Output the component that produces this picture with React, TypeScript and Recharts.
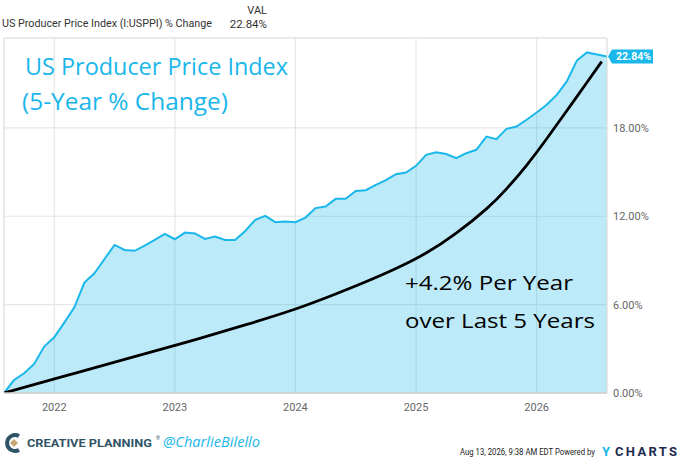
import React from 'react';
import { ComposedChart, Area, Line, XAxis, YAxis, CartesianGrid, ReferenceLine } from 'recharts';

const months = [
  '2021-08', '2021-09', '2021-10', '2021-11', '2021-12',
  '2022-01', '2022-02', '2022-03', '2022-04', '2022-05', '2022-06', '2022-07', '2022-08', '2022-09', '2022-10', '2022-11', '2022-12',
  '2023-01', '2023-02', '2023-03', '2023-04', '2023-05', '2023-06', '2023-07', '2023-08', '2023-09', '2023-10', '2023-11', '2023-12',
  '2024-01', '2024-02', '2024-03', '2024-04', '2024-05', '2024-06', '2024-07', '2024-08', '2024-09', '2024-10', '2024-11', '2024-12',
  '2025-01', '2025-02', '2025-03', '2025-04', '2025-05', '2025-06', '2025-07', '2025-08', '2025-09', '2025-10', '2025-11', '2025-12',
  '2026-01', '2026-02', '2026-03', '2026-04', '2026-05', '2026-06', '2026-07', '2026-08',
];

const ppiChange = [
  0, 0.88, 1.34, 1.97, 3.15,
  3.78, 4.78, 5.82, 7.5, 8.13, 9.1, 10.05, 9.71, 9.65, 10.0, 10.4, 10.8,
  10.44, 10.89, 10.83, 10.46, 10.62, 10.39, 10.39, 11.0, 11.75, 12.02, 11.6, 11.64,
  11.6, 11.91, 12.55, 12.66, 13.18, 13.18, 13.72, 13.77, 14.13, 14.45, 14.85, 14.97,
  15.42, 16.17, 16.35, 16.22, 15.94, 16.28, 16.51, 17.41, 17.23, 17.93, 18.09, 18.55,
  19.04, 19.57, 20.24, 21.15, 22.57, 23.12, 22.98, 22.84,
];

const trendDates = [
  '2021-08', '2022-02', '2022-08', '2023-02', '2023-08', '2024-01', '2024-05', '2024-08', '2024-11',
  '2025-02', '2025-05', '2025-08', '2025-10', '2025-12', '2026-02', '2026-04', '2026-06', '2026-07-15',
];
const trendValues = [
  0, 1.14, 2.28, 3.42, 4.62, 5.7, 6.72, 7.55, 8.45,
  9.5, 10.85, 12.5, 13.86, 15.46, 17.26, 19.16, 21.08, 22.5,
];

const yearTicks = [2022, 2023, 2024, 2025, 2026];
const yTicks = [0, 6, 12, 18];
const lastValue = 22.84;
const lastLabel = '22.84%';

function toX(d: string): number {
  const parts = d.split('-').map(Number);
  const day = parts[2] ? (parts[2] - 1) / 360 : 0;
  return parts[0] + (parts[1] - 1) / 12 + day;
}

type Row = { x: number; ppi?: number; trend?: number };
const rowMap = new Map<number, Row>();
months.forEach((m, i) => {
  const x = toX(m);
  rowMap.set(x, { x, ppi: ppiChange[i] });
});
trendDates.forEach((d, i) => {
  const x = toX(d);
  const r = rowMap.get(x) || { x };
  r.trend = trendValues[i];
  rowMap.set(x, r);
});
const rows = Array.from(rowMap.values()).sort((a, b) => a.x - b.x);

const xMin = toX(months[0]);
const xMax = toX(months[months.length - 1]);
const yMax = 24.1;

const CYAN = '#1ab7ea';

const ValueTag = (props: any) => {
  const vb = props.viewBox || {};
  const x = (vb.x || 0) + (vb.width || 0);
  const y = vb.y || 0;
  return (
    <g>
      <path d={`M${x + 1} ${y} L${x + 5} ${y - 7} H${x + 46} V${y + 7} H${x + 5} Z`} fill={CYAN} />
      <text x={x + 26.5} y={y + 3.8} textAnchor="middle" fill="#fff" fontSize={10.5} fontWeight="bold" fontFamily="Roboto, sans-serif">
        {lastLabel}
      </text>
    </g>
  );
};

const hand = '"Comic Sans MS", "Open Sans", sans-serif';

export default function App() {
  return (
    <div style={{ position: 'absolute', left: 0, top: 0, width: 680, height: 460, background: '#fff', overflow: 'hidden' }}>
      <ComposedChart width={680} height={460} data={rows} margin={{ top: 38, right: 0, left: 4, bottom: 0 }}>
        <CartesianGrid stroke="#e6e6e6" strokeWidth={1.2} />
        <XAxis
          dataKey="x"
          type="number"
          domain={[xMin, xMax]}
          ticks={yearTicks}
          tickFormatter={(v: number) => String(Math.round(v))}
          height={67}
          tickLine={false}
          tickMargin={4}
          axisLine={{ stroke: '#cfcfcf', strokeWidth: 1.5 }}
          tick={{ fill: '#666', fontSize: 11, fontFamily: 'Roboto, sans-serif' }}
          allowDataOverflow
        />
        <YAxis
          orientation="right"
          type="number"
          domain={[0, yMax]}
          ticks={yTicks}
          width={73}
          tickLine={false}
          axisLine={false}
          tickMargin={0}
          tickFormatter={(v: number) => v.toFixed(2) + '%'}
          tick={{ fill: '#666', fontSize: 11, fontFamily: 'Roboto, sans-serif', textAnchor: 'start' }}
          allowDataOverflow
        />
        <ReferenceLine x={xMin} stroke="#e3e3e3" />
        <ReferenceLine x={xMax} stroke="#e3e3e3" />
        <ReferenceLine y={yMax} stroke="#e3e3e3" />
        <Area
          type="linear"
          dataKey="ppi"
          stroke={CYAN}
          strokeWidth={2}
          fill={CYAN}
          fillOpacity={0.29}
          connectNulls
          dot={false}
          activeDot={false}
          isAnimationActive={false}
        />
        <Line
          type="natural"
          dataKey="trend"
          stroke="#000"
          strokeWidth={2.8}
          connectNulls
          dot={false}
          activeDot={false}
          isAnimationActive={false}
        />
        <ReferenceLine y={lastValue} stroke="none" label={<ValueTag />} />
      </ComposedChart>
      <svg width={680} height={460} style={{ position: 'absolute', left: 0, top: 0, pointerEvents: 'none' }}>
        <text x={2} y={27} fontSize={11.5} fill="#333" fontFamily="Roboto, sans-serif" textLength={210} lengthAdjust="spacingAndGlyphs">
          US Producer Price Index (I:USPPI) % Change
        </text>
        <text x={267} y={13.5} fontSize={11} fill="#333" fontFamily="Roboto, sans-serif" textAnchor="end">VAL</text>
        <text x={267} y={27.5} fontSize={11.5} fill="#333" fontFamily="Roboto, sans-serif" textAnchor="end">22.84%</text>

        <text x={25} y={75} fontSize={23} fill={CYAN} fontFamily={hand} textLength={263} lengthAdjust="spacingAndGlyphs">
          US Producer Price Index
        </text>
        <text x={22} y={110} fontSize={23} fill={CYAN} fontFamily={hand} textLength={206} lengthAdjust="spacingAndGlyphs">
          (5-Year % Change)
        </text>

        <text x={405} y={290} fontSize={20} fill="#000" fontFamily={hand} textLength={168} lengthAdjust="spacingAndGlyphs">
          +4.2% Per Year
        </text>
        <text x={405} y={328} fontSize={20} fill="#000" fontFamily={hand} textLength={190} lengthAdjust="spacingAndGlyphs">
          over Last 5 Years
        </text>

        <g>
          <path d="M19 436 A8 8 0 1 0 19 450" fill="none" stroke="#2f5466" strokeWidth={4} />
          <path d="M14 439 L18 443 L14 447 L10 443 Z" fill="#c8a774" />
        </g>
        <text x={27} y={447} fontSize={10.5} fill="#2f5466" fontWeight="bold" fontFamily="Roboto, sans-serif" textLength={125} lengthAdjust="spacingAndGlyphs">
          CREATIVE PLANNING
        </text>
        <text x={156} y={440} fontSize={5} fill="#2f5466" fontFamily="Roboto, sans-serif">®</text>
        <text x={163} y={447} fontSize={15} fill={CYAN} fontStyle="italic" fontFamily={hand} textLength={97} lengthAdjust="spacingAndGlyphs">
          @CharlieBilello
        </text>

        <text x={460} y={455} fontSize={8.2} fill="#222" fontFamily="Roboto, sans-serif" textLength={135} lengthAdjust="spacingAndGlyphs">
          Aug 13, 2026, 9:38 AM EDT Powered by
        </text>
        <text x={602} y={456} fontSize={13} fontWeight="bold" fill={CYAN} fontFamily="Roboto, sans-serif">Y</text>
        <text x={615} y={456} fontSize={13} fontWeight="bold" fill="#1d2b4f" fontFamily="Roboto, sans-serif" textLength={62} lengthAdjust="spacing">CHARTS</text>
      </svg>
    </div>
  );
}
